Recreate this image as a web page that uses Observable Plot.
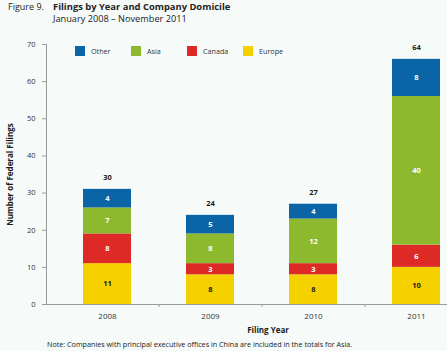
<!DOCTYPE html>
<html><head><meta charset="utf-8">
<script src="https://cdn.jsdelivr.net/npm/d3@7"></script>
<script src="https://cdn.jsdelivr.net/npm/@observablehq/plot@0.6"></script>
<style>
html,body{margin:0;padding:0;background:#f6fbf9;}
#wrap{position:relative;width:447px;height:351px;font-family:"Open Sans","Liberation Sans",Arial,sans-serif;color:#222;overflow:hidden}
#head{position:relative;height:30px}
.fig{position:absolute;left:8px;top:0px;font-size:9px;white-space:nowrap}
.title{position:absolute;left:53px;top:-0.5px;font-size:9.4px;font-weight:bold;white-space:nowrap}
.sub{position:absolute;left:53px;top:11.5px;font-size:9.2px;white-space:nowrap}
#chart{height:310px}
#chart svg{display:block}
#note{margin-left:47px;font-size:7.2px;line-height:9px;white-space:nowrap;color:#222}
.lg{position:absolute;top:46px;height:10px;font-size:7.2px;line-height:10px;color:#333;white-space:nowrap}
.lg span.sw{position:absolute;left:0;top:0;width:10px;height:10px}
.lg span.tx{position:absolute;left:16px;top:0}
</style>
</head><body>
<div id="wrap">
  <div id="head">
    <div class="fig">Figure 9.</div>
    <div class="title">Filings by Year and Company Domicile</div>
    <div class="sub">January 2008 – November 2011</div>
  </div>
  <div id="chart"></div>
  <div id="note">Note: Companies with principal executive offices in China are included in the totals for Asia.</div>
</div>
<script>
const years = [2008, 2009, 2010, 2011];
const categories = ["Europe", "Canada", "Asia", "Other"];
const legendOrder = ["Other", "Asia", "Canada", "Europe"];
const colors = ["#f6d100", "#dd2a27", "#8db92f", "#0a64a6"];
// segment heights as drawn in the picture
const europe = [11, 8, 8, 10];
const canada = [8, 3, 3, 6];
const asia = [7, 8, 12, 40];
const other = [5, 5, 4, 10];
// numbers printed on the segments and above the bars
const europeLabel = [11, 8, 8, 10];
const canadaLabel = [8, 3, 3, 6];
const asiaLabel = [7, 8, 12, 40];
const otherLabel = [4, 5, 4, 8];
const totalLabel = [30, 24, 27, 64];
const yTicks = [0, 10, 20, 30, 40, 50, 60, 70];

const series = {Europe: europe, Canada: canada, Asia: asia, Other: other};
const labels = {Europe: europeLabel, Canada: canadaLabel, Asia: asiaLabel, Other: otherLabel};
const rows = [];
years.forEach((year, i) => {
  categories.forEach(cat => rows.push({year, cat, value: series[cat][i], label: labels[cat][i]}));
});
const totals = years.map((year, i) => ({year, top: europe[i] + canada[i] + asia[i] + other[i], label: totalLabel[i]}));
const boundaries = years.slice(1).map(y => y - 0.5);

const font = '"Open Sans", "Liberation Sans", Arial, sans-serif';
const chart = Plot.plot({
  width: 447, height: 310,
  marginTop: 14, marginBottom: 36, marginLeft: 46, marginRight: 0,
  style: {background: "transparent", fontFamily: font, fontSize: "8px", color: "#333", overflow: "visible"},
  x: {domain: [2007.5, 2011.5], range: [55.5, 467.5], axis: null},
  y: {domain: [0, 70], axis: null},
  color: {domain: categories, range: colors},
  marks: [
    Plot.rectY(rows, Plot.stackY({x1: d => d.year - 0.5, x2: d => d.year + 0.5, y: "value", z: "cat", fill: "cat", insetLeft: 27.5, insetRight: 27.5})),
    Plot.text(rows, Plot.stackY({x: "year", y: "value", z: "cat", text: d => d.cat === "Europe" ? d.label : null, fill: "#1a1a1a", fontWeight: "bold", fontSize: 7.5})),
    Plot.text(rows, Plot.stackY({x: "year", y: "value", z: "cat", text: d => d.cat !== "Europe" ? d.label : null, fill: "white", fontWeight: "bold", fontSize: 7.5})),
    Plot.text(totals, {x: "year", y: "top", text: "label", dy: -12, fill: "#1a1a1a", fontWeight: "bold", fontSize: 7.5}),
    Plot.ruleY([0], {stroke: "#9a9a9a"}),
    Plot.frame({anchor: "left", stroke: "#9a9a9a"}),
    Plot.axisY({ticks: yTicks, tickSize: 4, tickPadding: 7, stroke: "#9a9a9a", fill: "#333", label: null, fontSize: 7.5}),
    Plot.axisX({ticks: years, tickSize: 0, tickPadding: 9, tickFormat: d => String(d), label: null, fill: "#333", fontSize: 8}),
    Plot.axisX({ticks: boundaries, tickSize: 3, tickFormat: () => "", label: null, stroke: "#9a9a9a"}),
    Plot.text(["Number of Federal Filings"], {text: d => d, frameAnchor: "left", textAnchor: "middle", lineAnchor: "middle", rotate: -90, dx: -36, fontWeight: "bold", fontSize: 8, fill: "#1a1a1a"}),
    Plot.text(["Filing Year"], {text: d => d, frameAnchor: "bottom", dx: 21, dy: 28, fontWeight: "bold", fontSize: 8, fill: "#1a1a1a"})
  ]
});
document.getElementById("chart").append(chart);

const wrap = document.getElementById("wrap");
legendOrder.forEach((cat, i) => {
  const item = document.createElement("div");
  item.className = "lg";
  item.style.left = (75 + i * 56) + "px";
  const sw = document.createElement("span");
  sw.className = "sw";
  sw.style.background = colors[categories.indexOf(cat)];
  const tx = document.createElement("span");
  tx.className = "tx";
  tx.textContent = cat;
  item.append(sw, tx);
  wrap.append(item);
});
</script>
</body></html>
